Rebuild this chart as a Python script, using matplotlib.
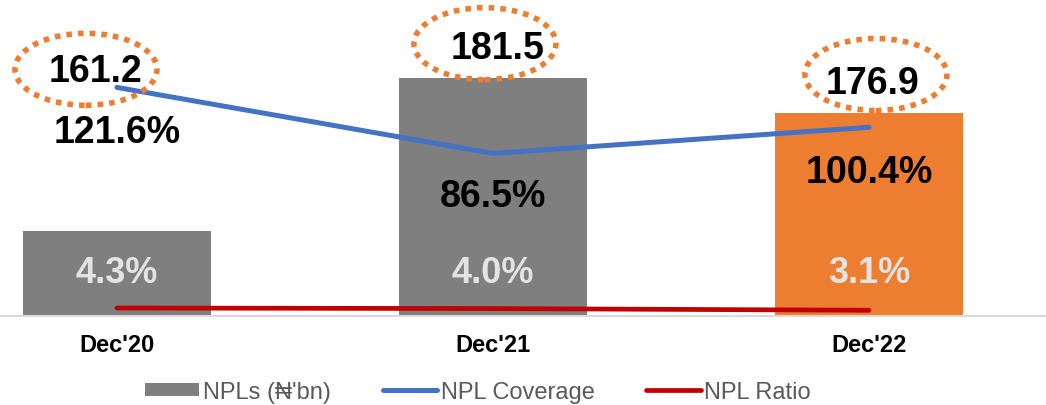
"""
NPLs, NPL coverage and NPL ratio, Dec'20 - Dec'22
"""
import matplotlib
matplotlib.use("Agg")
import matplotlib.pyplot as plt
from matplotlib.patches import Ellipse, Patch
from matplotlib.lines import Line2D
from matplotlib.transforms import ScaledTranslation

plt.rcParams['font.family'] = ['Liberation Sans', 'DejaVu Sans']

# data
periods = ["Dec'20", "Dec'21", "Dec'22"]
npls = [161.2, 181.5, 176.9]          # N'bn
npl_coverage = [121.6, 86.5, 100.4]   # %
npl_ratio = [4.3, 4.0, 3.1]           # %

GREY = '#7f7f7f'
ORANGE = '#ed7d31'
BLUE = '#4472c4'
RED = '#c00000'
bar_colors = [GREY, GREY, ORANGE]

DPI = 100
PX = 72 / DPI   # pixel -> point

fig = plt.figure(figsize=(10.46, 4.06), dpi=DPI)
ax = fig.add_axes([0, 0.219, 1, 0.781])
ax2 = ax.twinx()

x = list(range(len(periods)))
ax.bar(x, npls, width=0.5, color=bar_colors, zorder=2)
ax.set_xlim(-0.311, 2.471)
ax.set_ylim(150, 191.9)
ax2.set_ylim(0, 168.6)

ax2.plot(x, npl_coverage, color=BLUE, lw=3.6, solid_capstyle='round', zorder=3)
ax2.plot(x, npl_ratio, color=RED, lw=3.4, solid_capstyle='round', zorder=3)

# axes styling
for a in (ax, ax2):
    for s in ('top', 'left', 'right'):
        a.spines[s].set_visible(False)
    a.set_yticks([])
ax2.spines['bottom'].set_visible(False)
ax.spines['bottom'].set_color('#d9d9d9')
ax.spines['bottom'].set_linewidth(1.5)
ax.set_xticks(x)
ax.set_xticklabels(periods, fontsize=17, fontweight='bold')
ax.tick_params(axis='x', length=0, pad=12.5)


def label(axis, xi, yi, text, dx, dy, color='black', size=27):
    """text placed by pixel offset from a data point (dy = baseline, up)"""
    axis.annotate(text, xy=(xi, yi), xytext=(dx * PX, dy * PX),
                  textcoords='offset points', ha='center', va='baseline',
                  fontsize=size, fontweight='bold', color=color, zorder=5,
                  annotation_clip=False)


# NPL values with dotted rings
npl_text_off = [(-21, 150), (5, 19.5), (4, 19.5)]
ring_off = [(-31, 162), (-8, 34), (7, 38)]
for i, v in enumerate(npls):
    label(ax, i, v, f'{v:.1f}', *npl_text_off[i])
    tr = fig.dpi_scale_trans + ScaledTranslation(i, v, ax.transData)
    cx, cy = ring_off[i]
    ring = Ellipse((cx / DPI, cy / DPI), 142 / DPI, 72 / DPI, transform=tr,
                   fill=False, edgecolor=ORANGE, lw=4.0,
                   linestyle=(0, (1, 1.1)), capstyle='butt', clip_on=False,
                   zorder=4)
    fig.add_artist(ring)

# coverage labels (below the line)
cov_off = [-54.5, -52.5, -54.5]
for i, v in enumerate(npl_coverage):
    label(ax2, i, v, f'{v:.1f}%', 0, cov_off[i])

# NPL ratio labels (inside the bars)
ratio_off = [26.3, 27, 28.7]
for i, v in enumerate(npl_ratio):
    label(ax2, i, v, f'{v:.1f}%', 0, ratio_off[i], color='#e3e3e3', size=26)

# legend
handles = [
    Patch(facecolor=GREY, edgecolor='none'),
    Line2D([0], [0], color=BLUE, lw=3.6, solid_capstyle='round'),
    Line2D([0], [0], color=RED, lw=3.4, solid_capstyle='round'),
]
names = ["NPLs (\u20a6'bn)", 'NPL Coverage', 'NPL Ratio']
fig.legend(handles, names, loc='center', bbox_to_anchor=(0.457, 0.032),
           ncol=3, frameon=False, fontsize=17, labelcolor='#595959',
           handlelength=2.3, handleheight=0.5, handletextpad=0.15,
           columnspacing=2.2, borderaxespad=0)

fig.savefig('out.png', dpi=DPI)
